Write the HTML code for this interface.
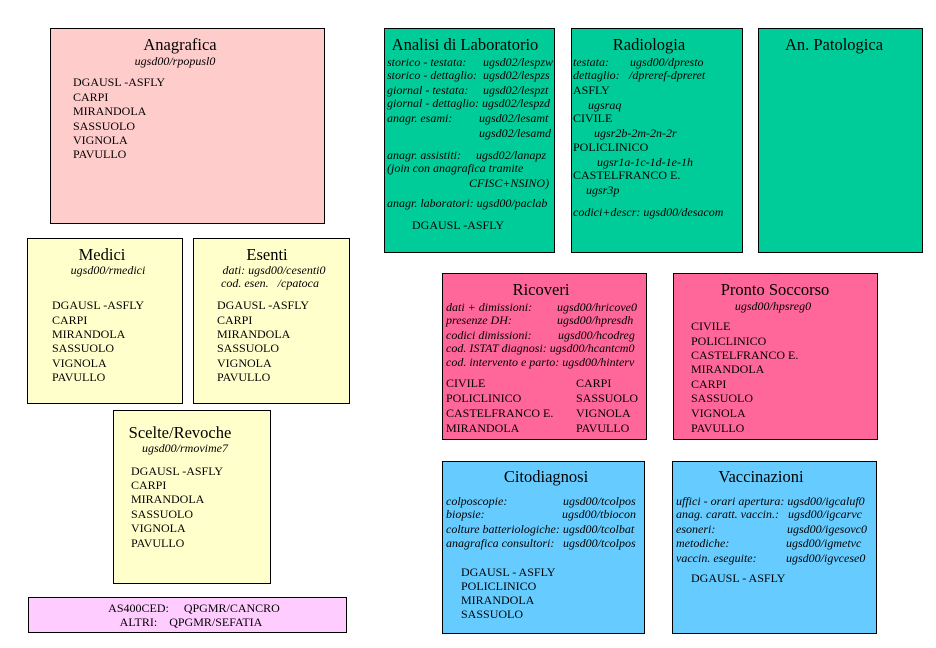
<!DOCTYPE html>
<html><head><meta charset="utf-8">
<style>
html,body{margin:0;padding:0;background:#fff;}
body{width:936px;height:648px;position:relative;overflow:hidden;font-family:"Liberation Serif",serif;color:#000;}
.b{position:absolute;border:1px solid #000;box-sizing:border-box;}
.t{position:absolute;white-space:pre;font-size:12px;line-height:14px;}
.i{position:absolute;white-space:pre;font-size:12px;line-height:14px;font-style:italic;}
.h{position:absolute;white-space:pre;font-size:16.5px;line-height:18px;transform:translateX(-50%);}
.c{transform:translateX(-50%);}
.pk{background:#FFCCCC}.yl{background:#FFFFCC}.gr{background:#00CC99}.hp{background:#FF6699}.bl{background:#66CCFF}.vi{background:#FFCCFF}
</style></head><body>

<!-- boxes -->
<div class="b pk" style="left:50px;top:28px;width:275px;height:196px"></div>
<div class="b gr" style="left:384px;top:28px;width:171px;height:225px"></div>
<div class="b gr" style="left:571px;top:28px;width:172px;height:225px"></div>
<div class="b gr" style="left:758px;top:28px;width:165px;height:225px"></div>
<div class="b yl" style="left:27px;top:238px;width:156px;height:166px"></div>
<div class="b yl" style="left:193px;top:238px;width:157px;height:166px"></div>
<div class="b yl" style="left:113px;top:410px;width:158px;height:174px"></div>
<div class="b vi" style="left:28px;top:597px;width:319px;height:36px"></div>
<div class="b hp" style="left:442px;top:273px;width:205px;height:167px"></div>
<div class="b hp" style="left:673px;top:273px;width:205px;height:167px"></div>
<div class="b bl" style="left:442px;top:461px;width:203px;height:173px"></div>
<div class="b bl" style="left:672px;top:461px;width:205px;height:173px"></div>

<!-- Anagrafica -->
<div class="h" style="left:180px;top:36px">Anagrafica</div>
<div class="i c" style="left:175px;top:54px">ugsd00/rpopusl0</div>
<div class="t" style="left:73px;top:75px">DGAUSL -ASFLY</div>
<div class="t" style="left:73px;top:90px">CARPI</div>
<div class="t" style="left:73px;top:104px">MIRANDOLA</div>
<div class="t" style="left:73px;top:119px">SASSUOLO</div>
<div class="t" style="left:73px;top:133px">VIGNOLA</div>
<div class="t" style="left:73px;top:147px">PAVULLO</div>

<!-- Medici -->
<div class="h" style="left:102px;top:246px">Medici</div>
<div class="i c" style="left:108px;top:263px">ugsd00/rmedici</div>
<div class="t" style="left:52px;top:298px">DGAUSL -ASFLY</div>
<div class="t" style="left:52px;top:313px">CARPI</div>
<div class="t" style="left:52px;top:327px">MIRANDOLA</div>
<div class="t" style="left:52px;top:341px">SASSUOLO</div>
<div class="t" style="left:52px;top:356px">VIGNOLA</div>
<div class="t" style="left:52px;top:370px">PAVULLO</div>

<!-- Esenti -->
<div class="h" style="left:267px;top:246px">Esenti</div>
<div class="i c" style="left:274px;top:263px">dati: ugsd00/cesenti0</div>
<div class="i c" style="left:270px;top:276px">cod. esen.   /cpatoca</div>
<div class="t" style="left:217px;top:298px">DGAUSL -ASFLY</div>
<div class="t" style="left:217px;top:313px">CARPI</div>
<div class="t" style="left:217px;top:327px">MIRANDOLA</div>
<div class="t" style="left:217px;top:341px">SASSUOLO</div>
<div class="t" style="left:217px;top:356px">VIGNOLA</div>
<div class="t" style="left:217px;top:370px">PAVULLO</div>

<!-- Scelte/Revoche -->
<div class="h" style="left:180px;top:424px">Scelte/Revoche</div>
<div class="i c" style="left:185px;top:441px">ugsd00/rmovime7</div>
<div class="t" style="left:131px;top:464px">DGAUSL -ASFLY</div>
<div class="t" style="left:131px;top:478px">CARPI</div>
<div class="t" style="left:131px;top:492px">MIRANDOLA</div>
<div class="t" style="left:131px;top:507px">SASSUOLO</div>
<div class="t" style="left:131px;top:521px">VIGNOLA</div>
<div class="t" style="left:131px;top:536px">PAVULLO</div>

<!-- bottom -->
<div class="t c" style="left:194px;top:601px">AS400CED:     QPGMR/CANCRO</div>
<div class="t c" style="left:191px;top:615px">ALTRI:    QPGMR/SEFATIA</div>

<!-- Analisi di Laboratorio -->
<div class="h" style="left:465px;top:36px">Analisi di Laboratorio</div>
<div class="i" style="left:387px;top:55px">storico - testata:</div><div class="i" style="left:483px;top:55px">ugsd02/lespzw</div>
<div class="i" style="left:387px;top:68px">storico - dettaglio:</div><div class="i" style="left:483px;top:68px">ugsd02/lespzs</div>
<div class="i" style="left:387px;top:83px">giornal - testata:</div><div class="i" style="left:483px;top:83px">ugsd02/lespzt</div>
<div class="i" style="left:387px;top:96px">giornal - dettaglio: ugsd02/lespzd</div>
<div class="i" style="left:387px;top:111px">anagr. esami:</div><div class="i" style="left:479px;top:111px">ugsd02/lesamt</div>
<div class="i" style="left:479px;top:126px">ugsd02/lesamd</div>
<div class="i" style="left:387px;top:148px">anagr. assistiti:</div><div class="i" style="left:476px;top:148px">ugsd02/lanapz</div>
<div class="i" style="left:387px;top:161px">(join con anagrafica tramite</div>
<div class="i" style="left:469px;top:176px">CFISC+NSINO)</div>
<div class="i" style="left:387px;top:196px">anagr. laboratori: ugsd00/paclab</div>
<div class="t" style="left:412px;top:218px">DGAUSL -ASFLY</div>

<!-- Radiologia -->
<div class="h" style="left:649px;top:36px">Radiologia</div>
<div class="i" style="left:573px;top:55px">testata:</div><div class="i" style="left:630px;top:55px">ugsd00/dpresto</div>
<div class="i" style="left:573px;top:68px">dettaglio:</div><div class="i" style="left:629px;top:68px">/dpreref-dpreret</div>
<div class="t" style="left:573px;top:83px">ASFLY</div>
<div class="i" style="left:588px;top:98px">ugsraq</div>
<div class="t" style="left:573px;top:111px">CIVILE</div>
<div class="i" style="left:594px;top:126px">ugsr2b-2m-2n-2r</div>
<div class="t" style="left:573px;top:140px">POLICLINICO</div>
<div class="i" style="left:597px;top:155px">ugsr1a-1c-1d-1e-1h</div>
<div class="t" style="left:573px;top:168px">CASTELFRANCO E.</div>
<div class="i" style="left:586px;top:183px">ugsr3p</div>
<div class="i" style="left:573px;top:205px">codici+descr: ugsd00/desacom</div>

<!-- An. Patologica -->
<div class="h" style="left:834px;top:36px">An. Patologica</div>

<!-- Ricoveri -->
<div class="h" style="left:541px;top:281px">Ricoveri</div>
<div class="i" style="left:446px;top:300px">dati + dimissioni:</div><div class="i" style="left:557px;top:300px">ugsd00/hricove0</div>
<div class="i" style="left:446px;top:313px">presenze DH:</div><div class="i" style="left:557px;top:313px">ugsd00/hpresdh</div>
<div class="i" style="left:446px;top:328px">codici dimissioni:</div><div class="i" style="left:558px;top:328px">ugsd00/hcodreg</div>
<div class="i" style="left:446px;top:341px">cod. ISTAT diagnosi: ugsd00/hcantcm0</div>
<div class="i" style="left:446px;top:355px">cod. intervento e parto: ugsd00/hinterv</div>
<div class="t" style="left:446px;top:376px">CIVILE</div><div class="t" style="left:576px;top:376px">CARPI</div>
<div class="t" style="left:446px;top:391px">POLICLINICO</div><div class="t" style="left:576px;top:391px">SASSUOLO</div>
<div class="t" style="left:446px;top:406px">CASTELFRANCO E.</div><div class="t" style="left:576px;top:406px">VIGNOLA</div>
<div class="t" style="left:446px;top:421px">MIRANDOLA</div><div class="t" style="left:576px;top:421px">PAVULLO</div>

<!-- Pronto Soccorso -->
<div class="h" style="left:775px;top:281px">Pronto Soccorso</div>
<div class="i c" style="left:773px;top:299px">ugsd00/hpsreg0</div>
<div class="t" style="left:691px;top:319px">CIVILE</div>
<div class="t" style="left:691px;top:334px">POLICLINICO</div>
<div class="t" style="left:691px;top:348px">CASTELFRANCO E.</div>
<div class="t" style="left:691px;top:362px">MIRANDOLA</div>
<div class="t" style="left:691px;top:377px">CARPI</div>
<div class="t" style="left:691px;top:391px">SASSUOLO</div>
<div class="t" style="left:691px;top:406px">VIGNOLA</div>
<div class="t" style="left:691px;top:421px">PAVULLO</div>

<!-- Citodiagnosi -->
<div class="h" style="left:546px;top:468px">Citodiagnosi</div>
<div class="i" style="left:446px;top:494px">colposcopie:</div><div class="i" style="left:563px;top:494px">ugsd00/tcolpos</div>
<div class="i" style="left:446px;top:507px">biopsie:</div><div class="i" style="left:562px;top:507px">ugsd00/tbiocon</div>
<div class="i" style="left:446px;top:522px">colture batteriologiche: ugsd00/tcolbat</div>
<div class="i" style="left:446px;top:536px">anagrafica consultori:</div><div class="i" style="left:563px;top:536px">ugsd00/tcolpos</div>
<div class="t" style="left:461px;top:565px">DGAUSL - ASFLY</div>
<div class="t" style="left:461px;top:579px">POLICLINICO</div>
<div class="t" style="left:461px;top:593px">MIRANDOLA</div>
<div class="t" style="left:461px;top:607px">SASSUOLO</div>

<!-- Vaccinazioni -->
<div class="h" style="left:761px;top:468px">Vaccinazioni</div>
<div class="i" style="left:676px;top:494px">uffici - orari apertura: ugsd00/igcaluf0</div>
<div class="i" style="left:676px;top:507px">anag. caratt. vaccin.:</div><div class="i" style="left:788px;top:507px">ugsd00/igcarvc</div>
<div class="i" style="left:676px;top:522px">esoneri:</div><div class="i" style="left:787px;top:522px">ugsd00/igesovc0</div>
<div class="i" style="left:676px;top:536px">metodiche:</div><div class="i" style="left:786px;top:536px">ugsd00/igmetvc</div>
<div class="i" style="left:676px;top:551px">vaccin. eseguite:</div><div class="i" style="left:786px;top:551px">ugsd00/igvcese0</div>
<div class="t" style="left:691px;top:571px">DGAUSL - ASFLY</div>

</body></html>
